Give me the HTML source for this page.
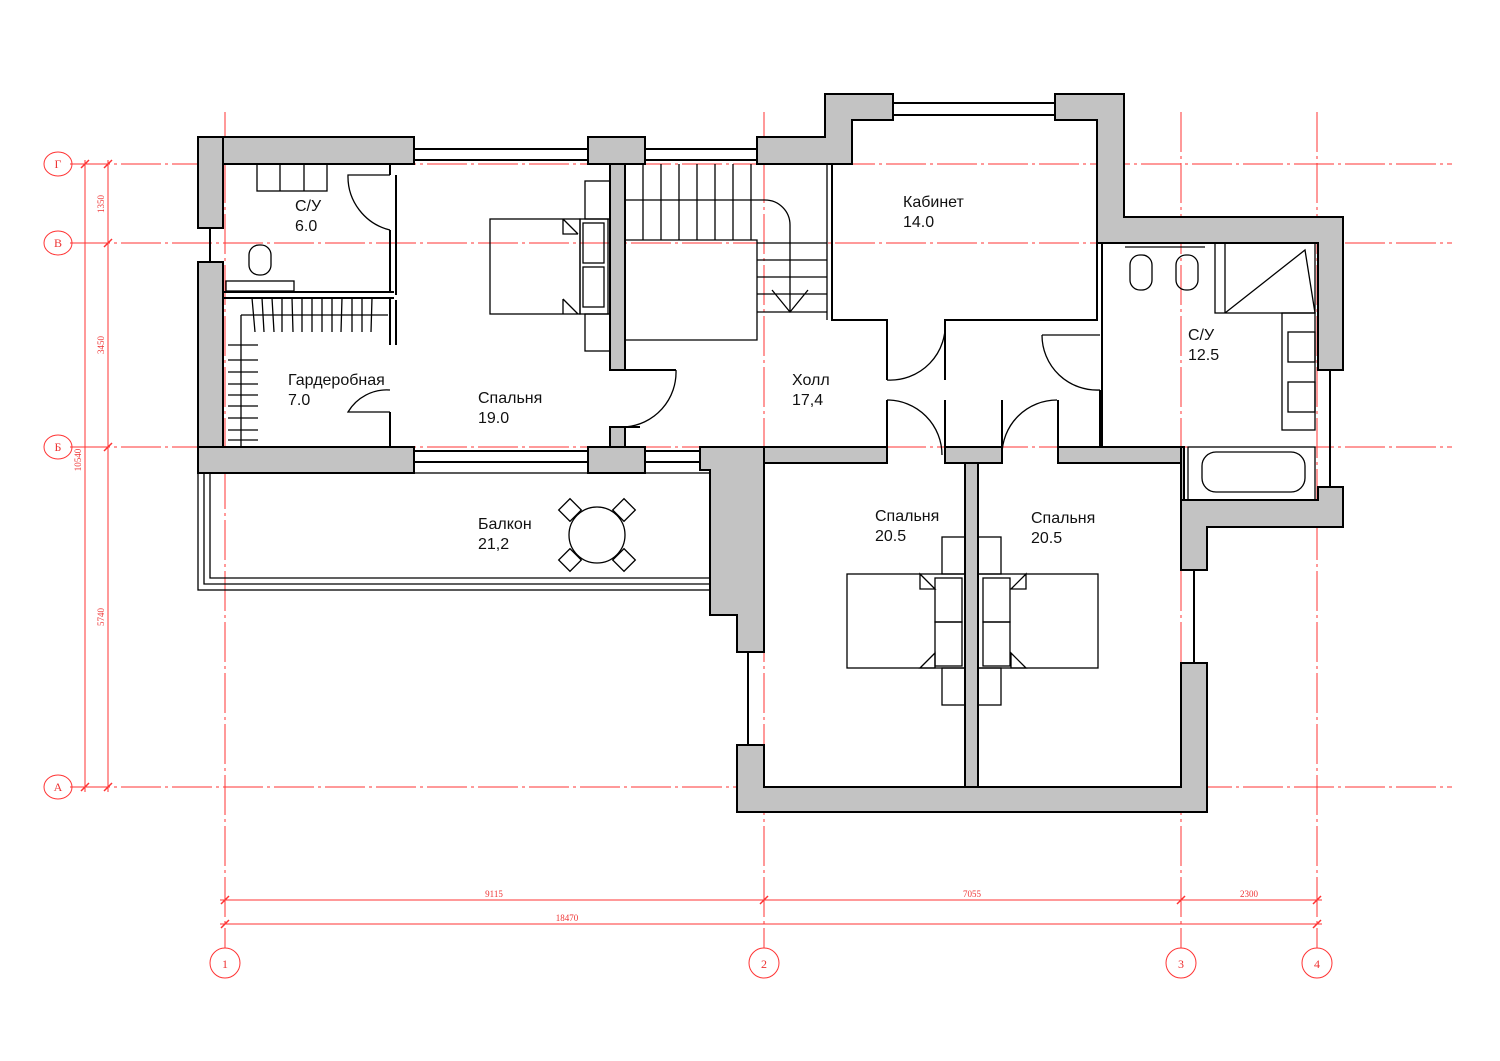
<!DOCTYPE html>
<html><head><meta charset="utf-8"><style>
html,body{margin:0;padding:0;background:#fff}
svg{display:block}
.t{font-family:"Liberation Sans","DejaVu Sans",sans-serif;font-size:16px;fill:#111}
.r{font-family:"Liberation Serif",serif;fill:#e33;font-size:9px}
.c{font-family:"Liberation Serif",serif;fill:#e33;font-size:12px}
</style></head><body>
<svg width="1500" height="1061" viewBox="0 0 1500 1061" xmlns="http://www.w3.org/2000/svg">
<g stroke="#f33" stroke-width="1" fill="none">
<g stroke-dasharray="40 4 3 4">
<line x1="70" y1="164" x2="1452" y2="164"/>
<line x1="70" y1="243" x2="1452" y2="243"/>
<line x1="70" y1="447" x2="1452" y2="447"/>
<line x1="70" y1="787" x2="1452" y2="787"/>
<line x1="225" y1="112" x2="225" y2="948"/>
<line x1="764" y1="112" x2="764" y2="948"/>
<line x1="1181" y1="112" x2="1181" y2="948"/>
<line x1="1317" y1="112" x2="1317" y2="948"/>
</g>
<line x1="85" y1="160" x2="85" y2="792"/>
<line x1="108" y1="160" x2="108" y2="792"/>
<line x1="220" y1="900" x2="1322" y2="900"/>
<line x1="220" y1="924" x2="1322" y2="924"/>
<g stroke-width="1.5">
<path d="M81 168l8-8M81 791l8-8M104 168l8-8M104 247l8-8M104 451l8-8M104 791l8-8"/>
<path d="M221 904l8-8M760 904l8-8M1177 904l8-8M1313 904l8-8M221 928l8-8M1313 928l8-8"/>
</g>
<ellipse cx="58" cy="164" rx="14" ry="12"/><ellipse cx="58" cy="243" rx="14" ry="12"/>
<ellipse cx="58" cy="447" rx="14" ry="12"/><ellipse cx="58" cy="787" rx="14" ry="12"/>
<circle cx="225" cy="963" r="15"/><circle cx="764" cy="963" r="15"/>
<circle cx="1181" cy="963" r="15"/><circle cx="1317" cy="963" r="15"/>
</g>
<g class="c" text-anchor="middle">
<text x="58" y="168">Г</text><text x="58" y="247">В</text><text x="58" y="451">Б</text><text x="58" y="791">А</text>
<text x="225" y="968">1</text><text x="764" y="968">2</text><text x="1181" y="968">3</text><text x="1317" y="968">4</text>
</g>
<g class="r" text-anchor="middle">
<text x="494" y="897">9115</text><text x="972" y="897">7055</text><text x="1249" y="897">2300</text><text x="567" y="921">18470</text>
<text transform="translate(104,204) rotate(-90)">1350</text>
<text transform="translate(104,345) rotate(-90)">3450</text>
<text transform="translate(104,617) rotate(-90)">5740</text>
<text transform="translate(81,460) rotate(-90)">10540</text>
</g>
<g fill="#c3c3c3" stroke="#000" stroke-width="2">
<rect x="198" y="137" width="216" height="27"/>
<rect x="198" y="137" width="25" height="91"/>
<rect x="198" y="262" width="25" height="211"/>
<rect x="198" y="447" width="216" height="26"/>
<rect x="588" y="137" width="57" height="27"/>
<rect x="588" y="447" width="57" height="26"/>
<rect x="610" y="164" width="15" height="206"/>
<rect x="610" y="427" width="15" height="20"/>
<path d="M757 137H825V94H893V120H852V164H757Z"/>
<path d="M1055 94H1124V217H1343V370H1318V243H1097V120H1055Z"/>
<path d="M1318 487H1343V527H1207V570H1181V500H1318Z"/>
<path d="M700 447H764V652H737V615H710V470H700Z"/>
<path d="M737 745H764V787H1181V663H1207V812H737Z"/>
<rect x="764" y="447" width="123" height="16"/>
<rect x="945" y="447" width="57" height="16"/>
<rect x="965" y="463" width="13" height="324"/>
<rect x="1058" y="447" width="123" height="16"/>
<rect x="1181" y="447" width="3" height="53"/>
</g>
<g stroke="#000" stroke-width="2" fill="none">
<path d="M414 149H588M414 160H588M645 149H757M645 160H757M893 103H1055M893 115H1055"/>
<path d="M414 451H588M414 462H588M645 451H700M645 462H700"/>
<path d="M210 228V262M1330 370V487M1194 570V663M748 652V745"/>
</g>
<g stroke="#000" stroke-width="2" fill="none">
<path d="M223 164H414M223 447H388"/>
<path d="M832 164V320H887V380M945 380V320H1097V164"/>
<path d="M1102 243V447H1058M887 447V400M945 400V447M1002 447V400M1058 400V447"/>
<path d="M223 292H394M223 298H394M390 164V175M390 230V292M390 298V345M390 412V447M396 175V295M396 300V345"/>
<path d="M625 370H676M625 427H640"/>
<path d="M1102 320V335M1100 390V447"/>
</g>
<g stroke="#000" stroke-width="1.3" fill="none">
<path d="M390 230A55 55 0 0 1 348 175H390"/>
<path d="M390 390A45 45 0 0 0 348 412H390"/>
<path d="M676 370A55 55 0 0 1 625 427"/>
<path d="M887 380A55 55 0 0 0 945 320M887 380V320"/>
<path d="M1042 335A55 55 0 0 0 1100 390M1042 335H1100"/>
<path d="M887 400A55 55 0 0 1 942 455M1002 455A55 55 0 0 1 1057 400"/>
<path d="M625 164V340H757V240H625"/>
<path d="M643 164V240M661 164V240M679 164V240M697 164V240M715 164V240M733 164V240M751 164V240"/>
<path d="M625 200H765A25 25 0 0 1 790 225V312"/>
<path d="M757 243H827M757 260H827M757 277H827M757 294H827M757 312H827M827 164V320"/>
<path d="M772 290L790 312L808 290"/>
<rect x="490" y="219" width="90" height="95"/>
<rect x="580" y="219" width="28" height="95"/>
<rect x="583" y="223" width="21" height="40"/><rect x="583" y="267" width="21" height="40"/>
<rect x="585" y="181" width="25" height="38"/><rect x="585" y="314" width="25" height="37"/>
<path d="M563 219L578 234M563 219V234H578M563 299L578 314M563 314V299"/>
<rect x="257" y="164" width="70" height="27"/><path d="M280 164V191M304 164V191"/>
<rect x="226" y="281" width="68" height="10"/>
<rect x="249" y="245" width="22" height="30" rx="10"/>
<path d="M241 315H388M241 315V447"/>
<path d="M252 298L255 332M262 298L264 332M272 298L274 332M282 298L282 332M292 298L293 332M302 298L302 332M312 298L312 332M322 298L322 332M332 298L332 332M342 298L341 332M352 298L352 332M362 298L362 332M372 298L371 332"/>
<path d="M228 345H258M228 360H258M228 372H258M228 384H258M228 395H258M228 406H258M228 418H258M228 430H258M228 440H258"/>
<rect x="198" y="473" width="512" height="117"/>
<path d="M204 473V584H710M210 473V578H710"/>
<g transform="translate(597,535)"><circle r="28"/><rect x="-35" y="-33" width="16" height="16" transform="rotate(45 -27 -25)"/><rect x="19" y="-33" width="16" height="16" transform="rotate(45 27 -25)"/><rect x="-35" y="17" width="16" height="16" transform="rotate(45 -27 25)"/><rect x="19" y="17" width="16" height="16" transform="rotate(45 27 25)"/></g>
<rect x="847" y="574" width="118" height="94"/><rect x="978" y="574" width="120" height="94"/>
<rect x="942" y="537" width="23" height="37"/><rect x="978" y="537" width="23" height="37"/>
<rect x="942" y="668" width="23" height="37"/><rect x="978" y="668" width="23" height="37"/>
<rect x="935" y="578" width="27" height="44"/><rect x="935" y="622" width="27" height="44"/>
<rect x="983" y="578" width="27" height="44"/><rect x="983" y="622" width="27" height="44"/>
<path d="M920 574L935 589H920ZM920 668L935 653V668ZM1026 574L1011 589H1026ZM1026 668L1011 653V668Z"/>
<rect x="1215" y="243" width="100" height="70"/><path d="M1225 243V313M1225 313L1305 250L1315 313"/>
<rect x="1282" y="313" width="33" height="117"/>
<rect x="1288" y="332" width="27" height="30"/><rect x="1288" y="382" width="27" height="30"/>
<rect x="1188" y="447" width="127" height="53"/><rect x="1202" y="452" width="103" height="40" rx="14"/>
<rect x="1130" y="255" width="22" height="35" rx="10"/><rect x="1176" y="255" width="22" height="35" rx="10"/>
<path d="M1125 247H1205"/>
</g>
<g class="t">
<text x="295" y="211">С/У</text><text x="295" y="231">6.0</text>
<text x="288" y="385">Гардеробная</text><text x="288" y="405">7.0</text>
<text x="478" y="403">Спальня</text><text x="478" y="423">19.0</text>
<text x="478" y="529">Балкон</text><text x="478" y="549">21,2</text>
<text x="903" y="207">Кабинет</text><text x="903" y="227">14.0</text>
<text x="792" y="385">Холл</text><text x="792" y="405">17,4</text>
<text x="1188" y="340">С/У</text><text x="1188" y="360">12.5</text>
<text x="875" y="521">Спальня</text><text x="875" y="541">20.5</text>
<text x="1031" y="523">Спальня</text><text x="1031" y="543">20.5</text>
</g>
</svg>
</body></html>
